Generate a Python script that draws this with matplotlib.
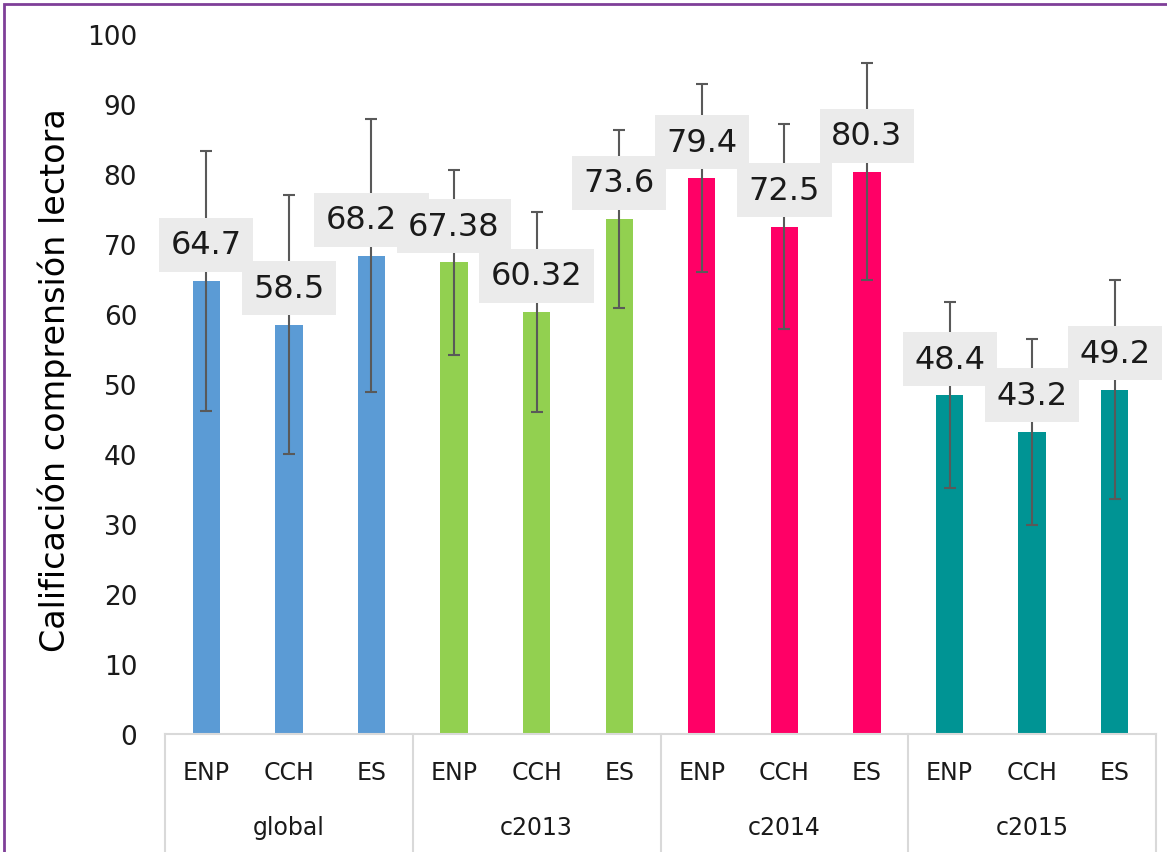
import numpy as np
import matplotlib.pyplot as plt
from matplotlib.patches import Rectangle
from matplotlib.transforms import blended_transform_factory

plt.rcParams['font.family'] = ['DejaVu Sans']

# datos
grupos = ['global', 'c2013', 'c2014', 'c2015']
escuelas = ['ENP', 'CCH', 'ES']
valores = [64.7, 58.5, 68.29, 67.38, 60.32, 73.6, 79.4, 72.5, 80.3, 48.4, 43.2, 49.2]
errores = [18.6, 18.5, 19.5, 13.2, 14.3, 12.7, 13.4, 14.6, 15.5, 13.3, 13.3, 15.6]
colores_grupo = ['#5B9BD5', '#92D050', '#FF0066', '#009494']
yticks = [0, 10, 20, 30, 40, 50, 60, 70, 80, 90, 100]

fig = plt.figure(figsize=(11.67, 8.53), dpi=100)
ax = fig.add_axes([165/1167, 1 - 735/853, 991/1167, 700/853])

x = np.arange(len(valores))
colores = [c for c in colores_grupo for _ in escuelas]
ax.bar(x, valores, width=0.33, color=colores, zorder=2)
ax.errorbar(x, valores, yerr=errores, fmt='none', ecolor='#595959',
            elinewidth=1.5, capsize=4, capthick=1.5, zorder=3)

for xi, v in zip(x, valores):
    ax.annotate(f'{v:g}', (xi, v), xytext=(0, 26), textcoords='offset points',
                ha='center', va='center', fontsize=23, color='#1a1a1a',
                bbox=dict(boxstyle='square,pad=0.36', fc='#EBEBEB', ec='none'), zorder=4)

ax.set_ylim(0, 100)
ax.set_xlim(-0.5, len(valores) - 0.5)
ax.set_yticks(yticks)
ax.set_yticklabels([str(t) for t in yticks], fontsize=19, color='#1a1a1a')
ax.tick_params(axis='y', length=0, pad=20)
ax.set_xticks([])
for s in ['left', 'right', 'top']:
    ax.spines[s].set_visible(False)
ax.spines['bottom'].set_color('#D9D9D9')
ax.spines['bottom'].set_linewidth(1.5)

tr = blended_transform_factory(ax.transData, ax.transAxes)
for i, e in enumerate(escuelas * len(grupos)):
    ax.text(i, -0.054, e, transform=tr, ha='center', va='center',
            fontsize=17, color='#1a1a1a')
for g, nombre in enumerate(grupos):
    ax.text(g * 3 + 1, -0.133, nombre, transform=tr, ha='center', va='center',
            fontsize=17, color='#1a1a1a')
for g in range(len(grupos) + 1):
    ax.plot([g * 3 - 0.5, g * 3 - 0.5], [0, -0.17], transform=tr, color='#D9D9D9',
            lw=1.5, clip_on=False)

fig.text(55/1167, 1 - 380/853, 'Calificación comprensión lectora', rotation=90,
         ha='center', va='center', fontsize=24)

fig.patches.append(Rectangle((4/1167, -0.1), 1.2, 1 - 5/853 + 0.1, transform=fig.transFigure,
                             fill=False, ec='#7F3F98', lw=2))

fig.savefig('out.png', dpi=100)
